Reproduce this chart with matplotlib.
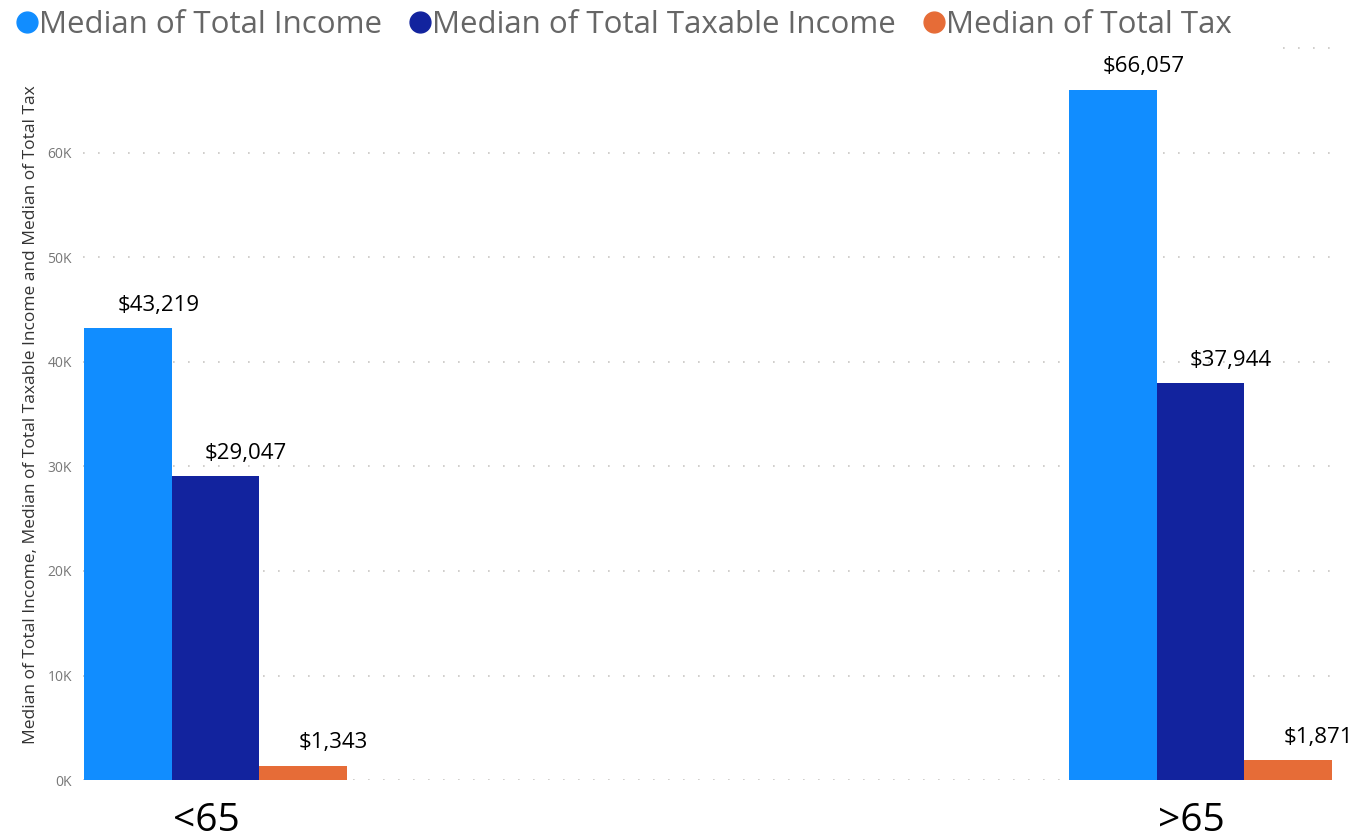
import matplotlib
matplotlib.use("Agg")
import matplotlib.pyplot as plt
import numpy as np
from matplotlib.lines import Line2D

plt.rcParams['font.family'] = ['Open Sans', 'DejaVu Sans']

# Medianer per aldersgruppe
grupper = ['<65', '>65']
serier = ['Median of Total Income', 'Median of Total Taxable Income', 'Median of Total Tax']
total_income = [43219, 66057]
taxable_income = [29047, 37944]
total_tax = [1343, 1871]
farger = ['#118DFF', '#12239E', '#E66C37']

verdier = [total_income, taxable_income, total_tax]

fig = plt.figure(figsize=(13.55, 8.4), dpi=100)
ax = fig.add_axes([0.0613, 0.0714, 0.9225, 0.871])

x = np.arange(len(grupper))
bredde = 0.0888
for i, (navn, vals, farge) in enumerate(zip(serier, verdier, farger)):
    pos = x + (i - 1) * bredde
    ax.bar(pos, vals, width=bredde, color=farge, zorder=3)
    for p, v in zip(pos, vals):
        ax.annotate(f'${v:,}', (p, v), xytext=(22, 9), textcoords='offset points',
                    ha='center', va='bottom', fontsize=16, color='black')

ax.set_xlim(-0.1345, 1.1345)
ax.set_ylim(0, 70000)

yt = np.arange(0, 70000, 10000)
ax.set_yticks(yt)
ax.set_yticklabels([f'{int(t / 1000)}K' for t in yt], fontsize=10, color='#777777')
ax.set_xticks(x - 0.009)
ax.set_xticklabels(grupper, fontsize=28, color='black')
ax.tick_params(axis='both', length=0)
ax.tick_params(axis='y', pad=8)
ax.tick_params(axis='x', pad=16)

ax.grid(axis='y', linestyle=(0, (1, 8)), color='#C8C6C4', linewidth=1.2, zorder=0)
ax.axhline(70000, xmin=0.96, xmax=1.0, linestyle=(0, (1, 8)), color='#C8C6C4',
           linewidth=1.2, clip_on=False)
for s in ax.spines.values():
    s.set_visible(False)

ax.set_ylabel('Median of Total Income, Median of Total Taxable Income and Median of Total Tax',
              fontsize=12.5, color='#333333', labelpad=6)

handles = [Line2D([], [], marker='o', linestyle='', markersize=15, color=f) for f in farger]
fig.legend(handles, serier, loc='upper left', bbox_to_anchor=(-0.002, 1.003), ncol=3,
           frameon=False, fontsize=22.5, labelcolor='#666666', handletextpad=-0.15,
           columnspacing=0.65, borderaxespad=0, handlelength=1.1)

fig.savefig('out.png', dpi=100)
